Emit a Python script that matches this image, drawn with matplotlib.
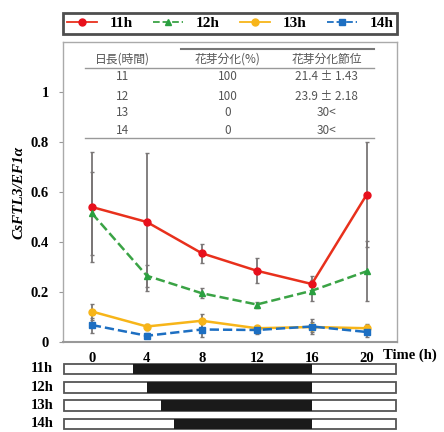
import matplotlib
matplotlib.use("Agg")
import matplotlib.pyplot as plt
from matplotlib.lines import Line2D
from matplotlib.patches import Rectangle

# data
times = [0, 4, 8, 12, 16, 20]
labels = ["11h", "12h", "13h", "14h"]
y11 = [0.54, 0.48, 0.355, 0.285, 0.232, 0.59]
e11 = [0.22, 0.275, 0.037, 0.05, 0.032, 0.21]
y12 = [0.515, 0.265, 0.195, 0.15, 0.205, 0.283]
e12 = [0.165, 0.045, 0.02, 0.012, 0.042, 0.12]
y13 = [0.122, 0.062, 0.085, 0.055, 0.06, 0.055]
e13 = [0.032, 0.012, 0.028, 0.01, 0.02, 0.018]
y14 = [0.068, 0.025, 0.05, 0.048, 0.062, 0.04]
e14 = [0.03, 0.01, 0.03, 0.015, 0.03, 0.02]

# dark period (lights off) for each photoperiod
dark_start = [3, 4, 5, 6]
dark_end = [16, 16, 16, 16]

# table in the plot
tbl_header = ["日長(時間)", "花芽分化(%)", "花芽分化節位"]
tbl_day = ["11", "12", "13", "14"]
tbl_pct = ["100", "100", "0", "0"]
tbl_node = ["21.4 ± 1.43", "23.9 ± 2.18", "30<", "30<"]

colors = ["#e8301c", "#3aa345", "#f7b519", "#1d6fc2"]
mcolors = ["#e8101c", "#2aa040", "#f7b519", "#1d6fc2"]
markers = ["o", "^", "o", "s"]
styles = ["-", "--", "-", "--"]

serif = "Liberation Serif"
jp = ["Noto Sans CJK JP", "DejaVu Sans"]

W, H = 444, 432
fig = plt.figure(figsize=(W / 100, H / 100), dpi=100)

def box(x0, y0, x1, y1):
    return [x0 / W, 1 - y1 / H, (x1 - x0) / W, (y1 - y0) / H]

ax = fig.add_axes(box(63, 42, 397, 342))
xl = (-2.1, 22.2)

series = [(y11, e11), (y12, e12), (y13, e13), (y14, e14)]
handles = []
for i, (yv, ev) in enumerate(series):
    ax.errorbar(times, yv, yerr=ev, fmt="none", ecolor="#7a7676",
                elinewidth=1.3, capsize=1.5, capthick=1, zorder=2)
for i, (yv, ev) in enumerate(series):
    ax.plot(times, yv, color=colors[i], linestyle=styles[i], linewidth=1.8,
            marker=markers[i], markersize=5, markerfacecolor=mcolors[i],
            markeredgecolor=mcolors[i], zorder=3)
    handles.append(Line2D([], [], color=colors[i], linestyle=styles[i],
                          linewidth=1.3, marker=markers[i], markersize=5,
                          markerfacecolor=mcolors[i], markeredgecolor=mcolors[i]))

ax.set_xlim(*xl)
ax.set_ylim(0, 1.2)
ax.set_xticks(times)
ax.set_xticklabels([str(t) for t in times], fontfamily=serif,
                   fontweight="bold", fontsize=10.5)
ax.set_yticks([0, 0.2, 0.4, 0.6, 0.8, 1])
ax.set_yticklabels(["0", "0.2", "0.4", "0.6", "0.8", "1"], fontfamily=serif,
                   fontweight="bold", fontsize=10.5)
ax.tick_params(axis="x", length=0, pad=7)
ax.tick_params(axis="y", length=3, color="#999999", pad=7)
for s in ax.spines.values():
    s.set_color("#aaaaaa")
    s.set_linewidth(1)
ax.spines["bottom"].set_color("#999999")
ax.spines["bottom"].set_linewidth(1.5)
ax.set_ylabel("CsFTL3/EF1α", fontfamily=serif, fontstyle="italic",
              fontweight="bold", fontsize=11, labelpad=4)
ax.text(21.2, -0.055, "Time (h)", fontfamily=serif, fontweight="bold",
        fontsize=10.5, va="center", ha="left", clip_on=False)

# table
tc = "#555555"
cx = [2.2, 9.9, 17.1]
ax.plot([6.5, 20.5], [1.172, 1.172], color="#777777", lw=1.5)
ax.plot([-0.5, 20.5], [1.096, 1.096], color="#999999", lw=1)
ax.plot([-0.5, 20.5], [0.816, 0.816], color="#999999", lw=1)
for c, h in zip(cx, tbl_header):
    ax.text(c, 1.13, h, ha="center", va="center", fontsize=8.5, color=tc, family=jp)
rows_y = [1.06, 0.984, 0.916, 0.844]
for ry, a, b, n in zip(rows_y, tbl_day, tbl_pct, tbl_node):
    for c, t in zip(cx, [a, b, n]):
        ax.text(c, ry, t, ha="center", va="center", fontsize=8.5, color=tc, family=jp)

# legend
lg = fig.legend(handles, labels, loc="lower left", ncol=4, mode="expand",
                bbox_to_anchor=(63 / W, 1 - 34 / H, 334 / W, 22 / H),
                frameon=True, fancybox=False, edgecolor="#222222",
                handlelength=2.0, borderaxespad=0, borderpad=0.25,
                prop={"family": serif, "weight": "bold", "size": 11})
lg.get_frame().set_linewidth(2)

# light/dark bars
bx = fig.add_axes(box(63, 360, 397, 432))
bx.set_xlim(*xl)
bx.set_ylim(3.44, -0.49)
bx.axis("off")
for i, lab in enumerate(labels):
    bx.add_patch(Rectangle((xl[0] + 0.05, i - 0.29), xl[1] - xl[0] - 0.1, 0.58,
                           facecolor="white", edgecolor="#555555", lw=1.3))
    bx.barh(i, dark_end[i] - dark_start[i], left=dark_start[i], height=0.58,
            color="#1a1a1a")
    bx.text(xl[0] - 0.7, i, lab, ha="right", va="center", fontfamily=serif,
            fontweight="bold", fontsize=10.5)

fig.savefig("out.png", dpi=100)
